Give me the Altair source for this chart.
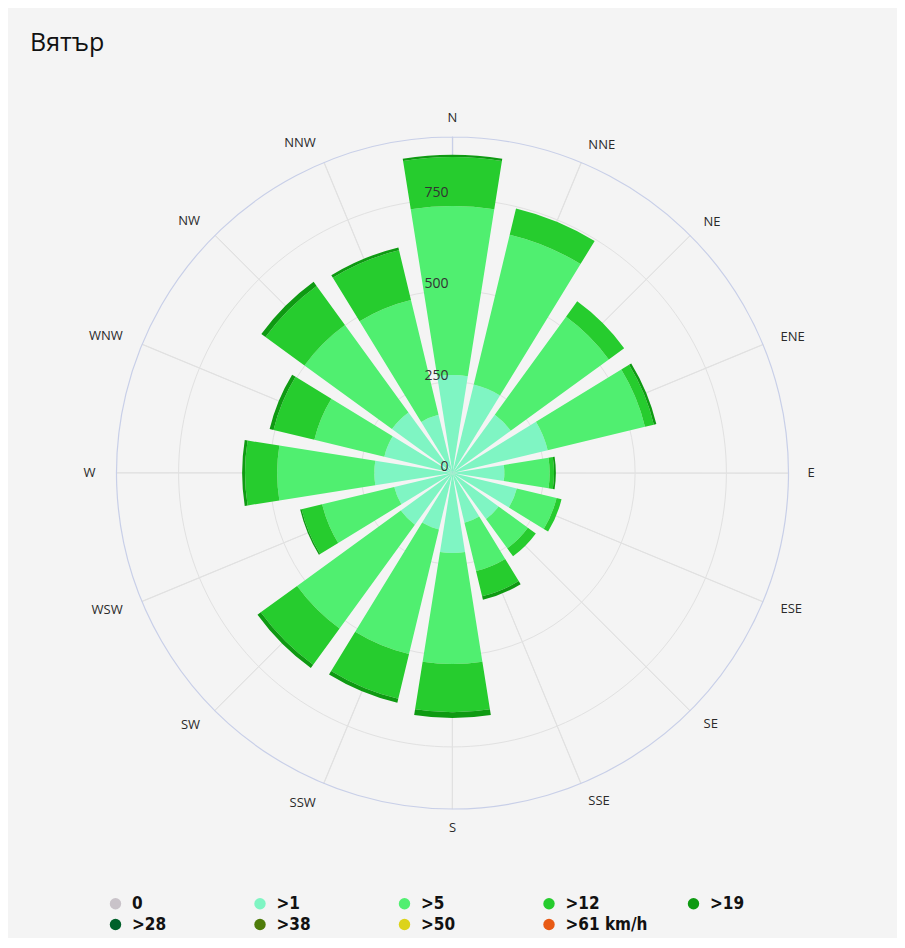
import altair as alt
import pandas as pd

# ---------------- data ----------------
directions = ["N", "NNE", "NE", "ENE", "E", "ESE", "SE", "SSE",
              "S", "SSW", "SW", "WSW", "W", "WNW", "NW", "NNW"]
categories = ["0", ">1", ">5", ">12", ">19", ">28", ">38", ">50", ">61 km/h"]
colors = ["#c9c3c9", "#7ff5c3", "#50ef70", "#26cc2e", "#0e9a12",
          "#00602a", "#4e7c0a", "#dcd31a", "#e85a14"]

calm   = [0] * 16
spd_1  = [268, 249, 197, 268, 142, 181, 156, 140, 219, 159, 175, 164, 214, 192, 205, 164]
spd_5  = [463, 422, 332, 274, 124, 112, 99, 136, 304, 351, 351, 203, 266, 197, 296, 323]
spd_12 = [134, 74, 52, 25, 12, 14, 27, 71, 132, 126, 123, 58, 88, 115, 132, 140]
spd_19 = [6, 0, 0, 7, 5, 0, 0, 10, 16, 11, 11, 4, 8, 11, 14, 8]
spd_28 = [0] * 16
spd_38 = [0] * 16
spd_50 = [0] * 16
spd_61 = [0] * 16

radial_ticks = [0, 250, 500, 750]
radial_max = 920

series = [calm, spd_1, spd_5, spd_12, spd_19, spd_28, spd_38, spd_50, spd_61]
step = 360 / len(directions)
half_bar = step * 0.4

rows = []
for i, d in enumerate(directions):
    base = 0
    for cat, vals in zip(categories, series):
        v = vals[i]
        if v > 0:
            rows.append(dict(dir=d, cat=cat, value=v, r0=base, r1=base + v,
                             t0=i * step - half_bar, t1=i * step + half_bar))
        base += v
bars_df = pd.DataFrame(rows)

dirs_df = pd.DataFrame({
    "dir": directions,
    "a": [i * step for i in range(len(directions))],
})
dirs_df["a2"] = dirs_df["a"] + 0.05
dirs_df["rmax"] = radial_max

ticks_df = pd.DataFrame({"tv": radial_ticks, "lbl": [str(t) for t in radial_ticks]})
grid_df = pd.DataFrame({"gv": radial_ticks[1:]})
outer_df = pd.DataFrame({"gv": [radial_max]})

# ---------------- scales ----------------
ts = alt.Scale(domain=[0, 360], range=[0, 6.283185307179586], nice=False, zero=False)
rs = alt.Scale(type="linear", domain=[0, radial_max], range=[0, 336], nice=False, zero=True)

FULL = 6.2831
grid = alt.Chart(grid_df).mark_arc(fill="transparent", stroke="#e1e1e1", strokeWidth=1).encode(
    radius=alt.Radius("gv:Q", scale=rs, stack=False),
    theta=alt.value(0), theta2=alt.value(FULL),
)
spokes = alt.Chart(dirs_df).mark_arc(fill="transparent", stroke="#e1e1e1", strokeWidth=1).encode(
    theta=alt.Theta("a:Q", scale=ts, stack=False), theta2="a2:Q",
    radius=alt.Radius("rmax:Q", scale=rs, stack=False),
)
outer = alt.Chart(outer_df).mark_arc(fill="transparent", stroke="#c8cfe8", strokeWidth=1.2).encode(
    radius=alt.Radius("gv:Q", scale=rs, stack=False),
    theta=alt.value(0), theta2=alt.value(FULL),
)

bars = alt.Chart(bars_df).mark_arc().encode(
    theta=alt.Theta("t0:Q", scale=ts, stack=False), theta2="t1:Q",
    radius=alt.Radius("r1:Q", scale=rs, stack=False), radius2="r0:Q",
    color=alt.Color("cat:N", sort=categories,
                    scale=alt.Scale(domain=categories, range=colors),
                    legend=alt.Legend(title=None, orient="none", legendX=99, legendY=887,
                                      direction="horizontal", columns=5, symbolType="circle",
                                      symbolSize=130, symbolStrokeWidth=0,
                                      labelFont="DejaVu Sans Condensed", labelFontSize=17,
                                      labelFontWeight="bold", labelColor="#111",
                                      gridAlign="all", columnPadding=36.5, rowPadding=3,
                                      labelOffset=8, padding=0, labelLimit=300)),
)

tick_labels = alt.Chart(ticks_df).mark_text(
    align="right", baseline="alphabetic", dx=-4, dy=-2,
    font="Open Sans", fontSize=14, color="#333",
).encode(
    radius=alt.Radius("tv:Q", scale=rs, stack=False),
    theta=alt.value(0),
    text="lbl:N",
)

def dir_layer(sub, align, r):
    return alt.Chart(sub).mark_text(
        align=align, baseline="middle", font="Open Sans", fontSize=13, color="#2a2a2a",
    ).encode(
        theta=alt.Theta("a:Q", scale=ts, stack=False),
        radius=alt.value(r),
        text="dir:N",
    )

right_df = dirs_df[(dirs_df["a"] > 0) & (dirs_df["a"] < 180)]
left_df = dirs_df[dirs_df["a"] > 180]
mid_df = dirs_df[(dirs_df["a"] == 0) | (dirs_df["a"] == 180)]

chart = alt.layer(
    grid, spokes, outer, bars, tick_labels,
    dir_layer(right_df, "left", 355), dir_layer(left_df, "right", 357),
    dir_layer(mid_df, "center", 355),
).properties(
    width=889, height=930, padding=0,
    autosize=alt.AutoSizeParams(type="none"),
    background="#f4f4f4",
    title=alt.TitleParams("Вятър", anchor="start", frame="group", orient="top", offset=0,
                          dx=22, dy=68, baseline="alphabetic", font="Open Sans",
                          fontSize=25, fontWeight="normal", color="#111"),
).configure_view(stroke=None)

chart.save("out.html", embed_options={"renderer": "svg", "actions": False})
